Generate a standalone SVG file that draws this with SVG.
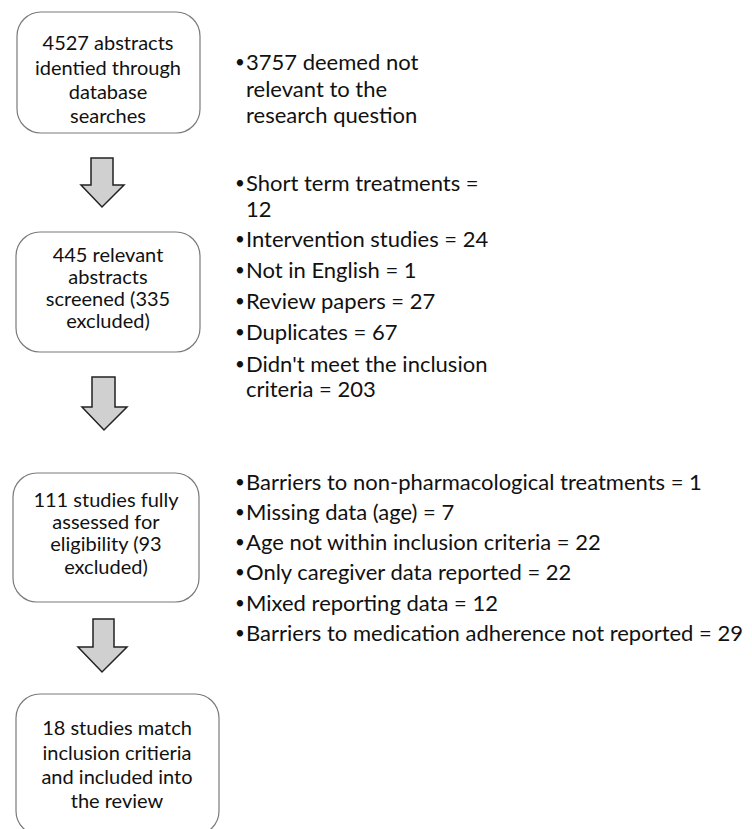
<svg xmlns="http://www.w3.org/2000/svg" width="752" height="829" viewBox="0 0 752 829">
<style>
.box{fill:#fff;stroke:#7a7a7a;stroke-width:1.2}
.arr{fill:#d0d0d0;stroke:#222;stroke-width:1.5;stroke-linejoin:miter}
.bt{font-family:Lato,"Liberation Sans",sans-serif;font-size:20px;fill:#111;text-anchor:middle}
.rt{font-family:Lato,"Liberation Sans",sans-serif;font-size:22px;fill:#111}
.bu{font-family:Lato,"Liberation Sans",sans-serif;font-size:17px;fill:#111}
</style>
<rect width="752" height="829" fill="#fff"/>
<g id="n1">
<rect class="box" x="17" y="12" width="183" height="121" rx="24"/>
<text class="bt" x="108" y="50">4527 abstracts</text>
<text class="bt" x="108" y="75">identied through</text>
<text class="bt" x="108" y="99">database</text>
<text class="bt" x="108" y="123">searches</text>
</g>
<g id="n2">
<rect class="box" x="16" y="232" width="184" height="120" rx="24"/>
<text class="bt" x="108" y="262">445 relevant</text>
<text class="bt" x="108" y="284">abstracts</text>
<text class="bt" x="108" y="306">screened (335</text>
<text class="bt" x="108" y="328">excluded)</text>
</g>
<g id="n3">
<rect class="box" x="13" y="473" width="186" height="129" rx="24"/>
<text class="bt" x="106" y="507">111 studies fully</text>
<text class="bt" x="106" y="529">assessed for</text>
<text class="bt" x="106" y="551">eligibility (93</text>
<text class="bt" x="106" y="574">excluded)</text>
</g>
<g id="n4">
<rect class="box" x="16" y="694" width="203" height="141" rx="24"/>
<text class="bt" x="117" y="735">18 studies match</text>
<text class="bt" x="117" y="760">inclusion critieria</text>
<text class="bt" x="117" y="784">and included into</text>
<text class="bt" x="117" y="808">the review</text>
</g>
<g id="connectors">
<polygon class="arr" points="91,158 113,158 113,185 124,185 102,207 81,185 91,185"/>
<polygon class="arr" points="92,377 115,377 115,407 127,407 104,430 82,407 92,407"/>
<polygon class="arr" points="93,619 114,619 114,647 127,647 102,672 78,647 93,647"/>
</g>
<g id="notes1">
<text class="bu" x="235" y="68">•</text><text class="rt" x="246" y="70">3757 deemed not</text>
<text class="rt" x="246" y="97">relevant to the</text>
<text class="rt" x="246" y="123">research question</text>
</g>
<g id="notes2">
<text class="bu" x="235" y="189">•</text><text class="rt" x="246" y="191">Short term treatments =</text>
<text class="rt" x="246" y="217">12</text>
<text class="bu" x="235" y="245">•</text><text class="rt" x="246" y="247">Intervention studies = 24</text>
<text class="bu" x="235" y="276">•</text><text class="rt" x="246" y="278">Not in English = 1</text>
<text class="bu" x="235" y="307">•</text><text class="rt" x="246" y="309">Review papers = 27</text>
<text class="bu" x="235" y="338">•</text><text class="rt" x="246" y="340">Duplicates = 67</text>
<text class="bu" x="235" y="370">•</text><text class="rt" x="246" y="372">Didn't meet the inclusion</text>
<text class="rt" x="246" y="397">criteria = 203</text>
</g>
<g id="notes3">
<text class="bu" x="235" y="488">•</text><text class="rt" x="246" y="490">Barriers to non-pharmacological treatments = 1</text>
<text class="bu" x="235" y="518">•</text><text class="rt" x="246" y="520">Missing data (age) = 7</text>
<text class="bu" x="235" y="548">•</text><text class="rt" x="246" y="550">Age not within inclusion criteria = 22</text>
<text class="bu" x="235" y="578">•</text><text class="rt" x="246" y="580">Only caregiver data reported = 22</text>
<text class="bu" x="235" y="609">•</text><text class="rt" x="246" y="611">Mixed reporting data = 12</text>
<text class="bu" x="235" y="639">•</text><text class="rt" x="246" y="641">Barriers to medication adherence not reported = 29</text>
</g>
</svg>
